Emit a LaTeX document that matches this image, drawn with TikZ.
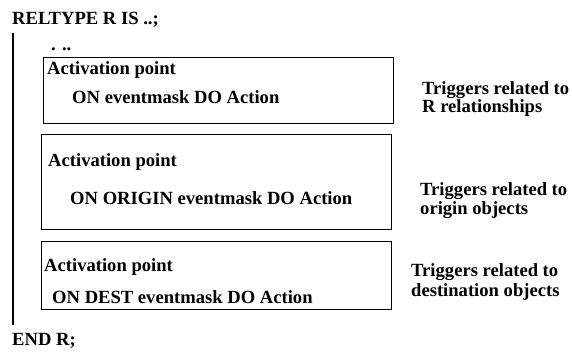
\documentclass[tikz,border=0pt]{standalone}
\usepackage{fontspec}
\setmainfont{Liberation Serif}
\tikzset{
  txt/.style={anchor=base west, inner sep=0pt, font=\fontsize{18.6}{20}\selectfont\bfseries},
  panel/.style={draw=black, line width=1.3pt},
}
\begin{document}
\begin{tikzpicture}[x=1pt,y=-1pt]
\useasboundingbox (0,0) rectangle (572,351);
\node[txt] (head) at (12,24) {RELTYPE R IS ..;};
\node[txt] (dots) at (51,50) {. ..};
\coordinate (ltop) at (13,33);
\coordinate (lbot) at (13,325);
\draw[line width=1.8pt] (ltop) -- (lbot);
% box 1
\node[panel, minimum width=350pt, minimum height=66pt, anchor=north west, inner sep=0pt] (b1) at (43,57) {};
\node[txt] (a1) at (47,74) {Activation point};
\node[txt] (o1) at (72,103) {ON eventmask DO Action};
% box 2
\node[panel, minimum width=350pt, minimum height=95pt, anchor=north west, inner sep=0pt] (b2) at (41,134) {};
\node[txt] (a2) at (48,166) {Activation point};
\node[txt] (o2) at (70,204) {ON ORIGIN eventmask DO Action};
% box 3
\node[panel, minimum width=350pt, minimum height=68pt, anchor=north west, inner sep=0pt] (b3) at (41,241) {};
\node[txt] (a3) at (44,271) {Activation point};
\node[txt] (o3) at (52,303) {ON DEST eventmask DO Action};
% right labels
\node[txt] (r1a) at (422,94) {Triggers related to};
\node[txt] (r1b) at (422,112) {R relationships};
\node[txt] (r2a) at (420,195) {Triggers related to};
\node[txt] (r2b) at (420,214) {origin objects};
\node[txt] (r3a) at (411,276) {Triggers related to};
\node[txt] (r3b) at (411,296) {destination objects};
\node[txt] (endr) at (12,345) {END R;};
\end{tikzpicture}
\end{document}
